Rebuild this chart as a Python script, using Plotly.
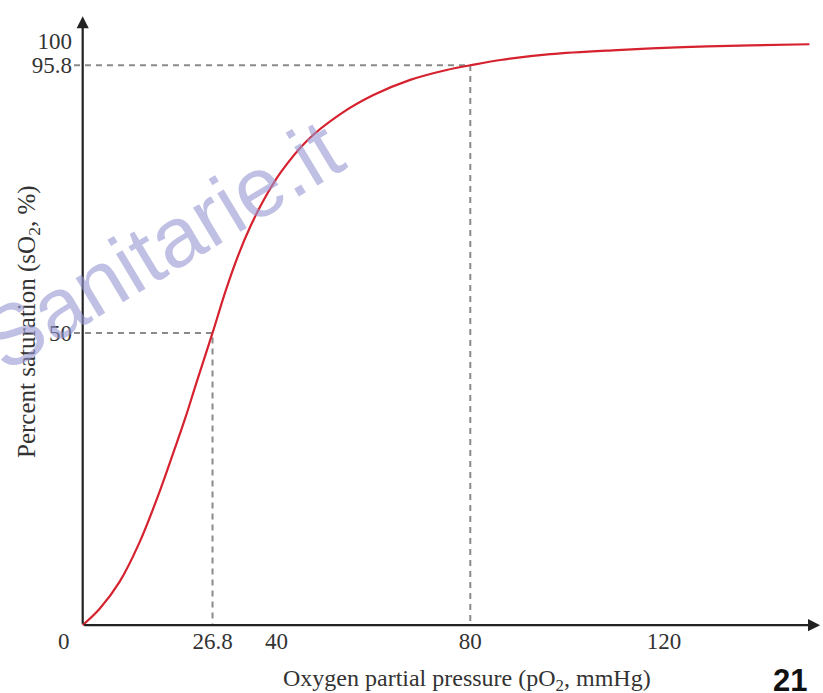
import plotly.graph_objects as go

# Oxygen dissociation curve
po2 = [0, 3.5, 7.6, 11.8, 15.9, 19.0, 21.2, 23.6, 26.8, 29.5, 32.2, 34.6, 37.0, 40.9,
       46.3, 53.1, 60.0, 67.6, 75.1, 80.0, 86.2, 96.5, 110.3, 124.0, 137.8, 150.0]
so2 = [0, 2.8, 7.4, 14.3, 22.9, 30.2, 35.5, 41.8, 50.0, 57.2, 63.5, 68.2, 72.2, 77.5,
       82.9, 87.4, 90.7, 93.3, 95.0, 95.8, 96.7, 97.7, 98.4, 98.9, 99.2, 99.4]

x_ticks = [26.8, 40, 80, 120]
x_tick_labels = ["26.8", "40", "80", "120"]
y_ticks = [50, 95.8, 100]
y_tick_labels = ["50", "95.8", "100"]

p50 = (26.8, 50)
p80 = (80, 95.8)

SERIF = "Liberation Serif"
AXC = "#222222"
DASHC = "#8a8a8a"
TXT = "#333333"

L, R, T, B = 73, 0, 8, 62
W, H = 823, 693
PW, PH = W - L - R, H - T - B


def px(xp):
    return (xp - L) / PW


def py(yp):
    return (H - B - yp) / PH


fig = go.Figure()

# dashed guide lines
for (gx, gy) in [p50, p80]:
    fig.add_trace(go.Scatter(x=[-1.8, gx, gx], y=[gy, gy, 0], mode="lines",
                             line=dict(color=DASHC, width=2, dash="6px,5px"),
                             hoverinfo="skip", showlegend=False))

fig.add_trace(go.Scatter(x=po2, y=so2, mode="lines",
                         line=dict(color="#d6222f", width=2.2, shape="spline", smoothing=1.0),
                         showlegend=False))

fig.update_xaxes(range=[-2, 152.8], showgrid=False, zeroline=False, showline=False,
                 tickvals=x_ticks, ticktext=x_tick_labels, ticks="", ticklabelstandoff=-6,
                 tickfont=dict(family=SERIF, size=23, color=TXT))
fig.update_yaxes(range=[-1, 105.6], showgrid=False, zeroline=False, showline=False,
                 tickvals=y_ticks, ticktext=y_tick_labels, ticks="",
                 tickfont=dict(family=SERIF, size=23, color=TXT))

annotations = [
    # axes with arrows
    dict(x=152.2, y=0, ax=0, ay=0, xref="x", yref="y", axref="x", ayref="y",
         showarrow=True, arrowhead=2, arrowsize=1.1, arrowwidth=2.2, arrowcolor=AXC, text=""),
    dict(x=0, y=104.2, ax=0, ay=0, xref="x", yref="y", axref="x", ayref="y",
         showarrow=True, arrowhead=2, arrowsize=1.1, arrowwidth=2.2, arrowcolor=AXC, text=""),
    # origin label
    dict(x=px(64), y=py(641), xref="paper", yref="paper", text="0", showarrow=False,
         xanchor="center", yanchor="middle",
         font=dict(family=SERIF, size=23, color=TXT)),
    # axis titles
    dict(x=px(467), y=py(680), xref="paper", yref="paper",
         text="Oxygen partial pressure (pO<sub>2</sub>, mmHg)", showarrow=False,
         xanchor="center", yanchor="middle",
         font=dict(family=SERIF, size=24, color=TXT)),
    dict(x=px(28), y=py(322), xref="paper", yref="paper",
         text="Percent saturation (sO<sub>2</sub>, %)",
         showarrow=False, textangle=-90, xanchor="center", yanchor="middle",
         font=dict(family=SERIF, size=25, color=TXT)),
    # page number
    dict(x=px(790), y=py(680), xref="paper", yref="paper", text="<b>21</b>", showarrow=False,
         xanchor="center", yanchor="middle",
         font=dict(family="Liberation Sans", size=31, color="#111")),
    # watermark
    dict(x=px(162), y=py(245), xref="paper", yref="paper", text="Sanitarie.it", showarrow=False,
         xanchor="center", yanchor="middle", textangle=-31,
         font=dict(family="Liberation Sans", size=85, color="rgba(150,150,210,0.6)")),
]

fig.update_layout(width=W, height=H, margin=dict(l=L, r=R, t=T, b=B),
                  plot_bgcolor="white", paper_bgcolor="white",
                  annotations=annotations)

fig.write_html("out.html")
